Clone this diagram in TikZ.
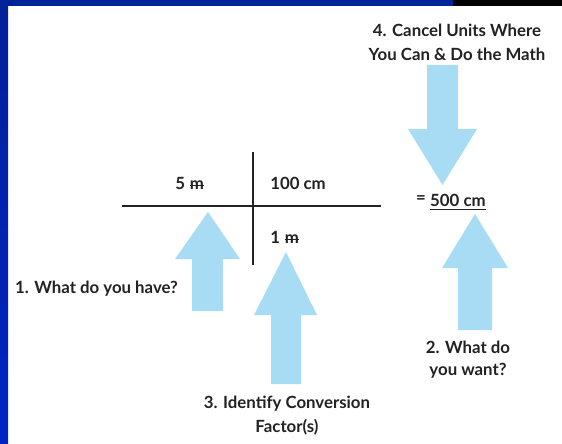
\documentclass[tikz,border=0pt]{standalone}
\usepackage{fontspec}
\setmainfont{Lato}
\definecolor{slideblue}{HTML}{0024C4}
\definecolor{slidebluetop}{HTML}{00229A}
\definecolor{arrowblue}{HTML}{A8DCF4}
\definecolor{inkgray}{HTML}{222222}
\newcommand{\strikem}{\tikz[baseline=0pt]{\node[inner sep=0pt,anchor=base] (mm) {m};\draw[inkgray,line width=1pt] ([yshift=3.9pt]mm.base west) -- ([yshift=3.9pt]mm.base east);}}
\begin{document}
\begin{tikzpicture}[x=1pt,y=-1pt,
  lbl/.style={font=\fontsize{16.8}{24}\selectfont\bfseries, text=inkgray, inner sep=0pt},
  fatarrow/.style={fill=arrowblue, draw=none},
  rule/.style={draw=inkgray, line width=1.3pt}]
\useasboundingbox (0,0) rectangle (562,444);
% slide frame
\fill[white] (0,0) rectangle (562,444);
\shade[top color=slidebluetop, bottom color=slideblue] (0,0) rectangle (8,444);
\fill[slidebluetop] (0,0) rectangle (453,6);
\fill[black] (453,0) rectangle (562,6);
% cross
\coordinate (vtop) at (253,152);
\coordinate (vbot) at (253,265);
\coordinate (hl) at (122,206);
\coordinate (hr) at (381,206);
\draw[rule] (vtop) -- (vbot);
\draw[rule] (hl) -- (hr);
% numbers
\node[lbl] (five) at (190,183) {5 \strikem};
\node[lbl] (hundred) at (298,183) {100 cm};
\node[lbl] (one) at (285,237) {1 \strikem};
\node[lbl, anchor=east] (eq) at (426,200) {=};
\node[lbl, anchor=west] (res) at (430,200) {500 cm};
\draw[inkgray, line width=0.9pt] ([yshift=-3pt]res.south west) -- ([yshift=-3pt]res.south east);
% arrows
\fill[fatarrow] (208,212) -- (240,259) -- (223,259) -- (223,311) -- (192,311) -- (192,259) -- (175,259) -- cycle;
\fill[fatarrow] (286,252) -- (317,315) -- (301,315) -- (301,384) -- (271,384) -- (271,315) -- (254,315) -- cycle;
\fill[fatarrow] (475,214) -- (508,268) -- (492,268) -- (492,330) -- (458,330) -- (458,268) -- (442,268) -- cycle;
\fill[fatarrow] (442.5,185) -- (477,129) -- (458,129) -- (458,65) -- (427,65) -- (427,129) -- (408,129) -- cycle;
% labels
\node[lbl, align=center] (step4) at (457,42) {4. Cancel Units Where\\You Can \& Do the Math};
\node[lbl, anchor=west] (step1) at (15,289) {1. What do you have?};
\node[lbl, align=center, font=\fontsize{16.8}{22}\selectfont\bfseries] (step2) at (468,360) {2. What do\\you want?};
\node[lbl, align=center] (step3) at (287,416) {3. Identify Conversion\\Factor(s)};
\end{tikzpicture}
\end{document}
